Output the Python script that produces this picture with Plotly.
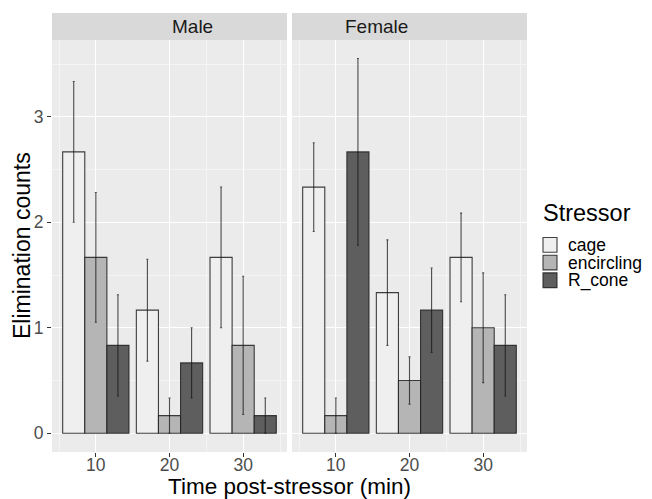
import plotly.graph_objects as go

times = [10, 20, 30]
stressors = ["cage", "encircling", "R_cone"]
panels = ["Male", "Female"]

male_mean = {
    "cage": [2.667, 1.167, 1.667],
    "encircling": [1.667, 0.167, 0.833],
    "R_cone": [0.833, 0.667, 0.167],
}
male_se = {
    "cage": [0.667, 0.483, 0.667],
    "encircling": [0.615, 0.167, 0.655],
    "R_cone": [0.48, 0.333, 0.167],
}
female_mean = {
    "cage": [2.333, 1.333, 1.667],
    "encircling": [0.167, 0.5, 1.0],
    "R_cone": [2.667, 1.167, 0.833],
}
female_se = {
    "cage": [0.42, 0.5, 0.42],
    "encircling": [0.167, 0.224, 0.52],
    "R_cone": [0.885, 0.4, 0.48],
}

fills = {"cage": "#EFEFEF", "encircling": "#B5B5B5", "R_cone": "#5E5E5E"}
OUTLINE = "rgba(30,30,30,0.85)"
FONT = "Liberation Sans, Arial, sans-serif"

fig = go.Figure()
for s in stressors:
    for pi, (means, ses) in enumerate([(male_mean, male_se), (female_mean, female_se)]):
        fig.add_trace(go.Bar(
            x=times, y=means[s], name=s, legendgroup=s,
            showlegend=False, offsetgroup=s,
            marker=dict(color=fills[s], line=dict(color=OUTLINE, width=1.1)),
            error_y=dict(type="data", array=ses[s], visible=True,
                         color="rgba(20,20,20,0.75)", thickness=1.1, width=1),
            xaxis="x" if pi == 0 else "x2",
            yaxis="y" if pi == 0 else "y2",
        ))

# page body has an 8px margin; figure is sized to fit the 652x499 window
OFF = 8
W, H = 652 - OFF, 499 - OFF
L, T = 52 - OFF, 13 - OFF
R = W - (527 - OFF)
B = H - (452 - OFF)
pw = W - L - R
ph = H - T - B


def px(ax):  # absolute window x -> paper x
    return (ax - 52) / pw


def py(ay):  # absolute window y -> paper y
    return (452 - ay) / ph


d1 = px(287)
d2 = px(292)
ytop = py(40)

xcommon = dict(range=[4.05, 35.95], tickvals=times, ticktext=[str(t) for t in times],
               showgrid=True, gridcolor="white", gridwidth=1.2, zeroline=False,
               ticks="outside", ticklen=4, tickcolor="#333333",
               tickfont=dict(size=17.5, color="#4D4D4D", family=FONT),
               ticklabelstandoff=-7,
               minor=dict(tickvals=[5, 25, 35], showgrid=True, gridcolor="#F4F4F4", gridwidth=0.6, ticks=""),
               showline=False)
ycommon = dict(range=[-0.1775, 3.7275], tickvals=[0, 1, 2, 3],
               showgrid=True, gridcolor="white", gridwidth=1.2, zeroline=False,
               minor=dict(tickvals=[0.5, 1.5, 2.5, 3.5], showgrid=True, gridcolor="#F4F4F4", gridwidth=0.6, ticks=""),
               domain=[0, ytop])

fig.update_layout(
    width=W, height=H,
    margin=dict(l=L, r=R, t=T, b=B, autoexpand=False),
    paper_bgcolor="white", plot_bgcolor="#EBEBEB",
    barmode="group", bargap=0.1, bargroupgap=0,
    font=dict(family=FONT, color="black"),
    xaxis=dict(domain=[0, d1], anchor="y", **xcommon),
    xaxis2=dict(domain=[d2, 1], anchor="y2", **xcommon),
    yaxis=dict(anchor="x", ticks="outside", ticklen=4, tickcolor="#333333",
               tickfont=dict(size=17.5, color="#4D4D4D", family=FONT), **ycommon),
    yaxis2=dict(anchor="x2", matches="y", showticklabels=False, ticks="", **ycommon),
    showlegend=False,
)

# facet strips
for x0, x1, label in [(0, d1, panels[0]), (d2, 1, panels[1])]:
    fig.add_shape(type="rect", xref="paper", yref="paper", x0=x0, x1=x1, y0=ytop, y1=py(13),
                  fillcolor="#D9D9D9", line=dict(width=0), layer="below")
    fig.add_annotation(x=(x0 + x1) / 2, y=(ytop + py(13)) / 2, xref="paper", yref="paper",
                       text=label, showarrow=False, yanchor="middle",
                       font=dict(size=19, color="#1A1A1A", family=FONT))

# axis titles
fig.add_annotation(x=0.5, y=py(486.5), xref="paper", yref="paper", yanchor="middle",
                   text="Time post-stressor (min)", showarrow=False,
                   font=dict(size=22.5, color="black", family=FONT))
fig.add_annotation(x=px(22), y=ytop / 2, xref="paper", yref="paper", textangle=-90,
                   xanchor="center", text="Elimination counts", showarrow=False,
                   font=dict(size=23, color="black", family=FONT))

# legend (ggplot-style, tightly packed keys)
fig.add_annotation(x=px(541), y=py(213), xref="paper", yref="paper", xanchor="left",
                   yanchor="middle", text="Stressor", showarrow=False,
                   font=dict(size=23.5, color="black", family=FONT))
key_h = 17.7
key_top = 236
for i, s in enumerate(stressors):
    y0 = key_top + i * key_h
    fig.add_shape(type="rect", xref="paper", yref="paper",
                  x0=px(543), x1=px(557), y0=py(y0 + key_h - 1.5), y1=py(y0 + 1.5),
                  fillcolor=fills[s], line=dict(color=OUTLINE, width=1.1))
# labels as one multi-line text; line spacing (1.3 x base size) equals the key height
label_text = "<br>".join(f"<span style='font-size:17.5px'>{s}</span>" for s in stressors)
fig.add_annotation(x=px(566), y=py(key_top + 1.5 * key_h), xref="paper", yref="paper",
                   xanchor="left", yanchor="middle", align="left", text=label_text,
                   showarrow=False, font=dict(size=key_h / 1.3, color="black", family=FONT))

fig.write_html("out.html")
